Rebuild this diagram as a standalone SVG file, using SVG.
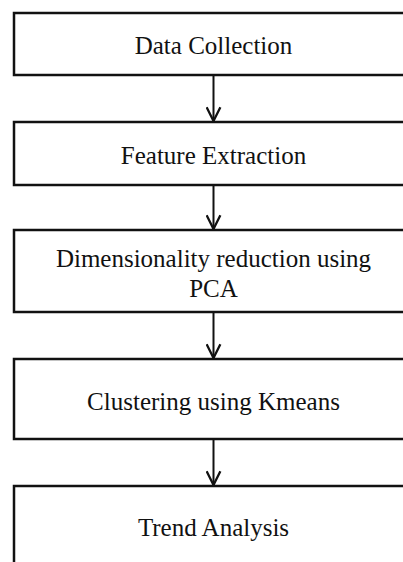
<svg xmlns="http://www.w3.org/2000/svg" width="403" height="562" viewBox="0 0 403 562">
  <style>
    .box { fill: #ffffff; stroke: #111111; stroke-width: 2.5; }
    .lbl { font-family: "Liberation Serif", "Times New Roman", serif; font-size: 25px; fill: #111111; text-anchor: middle; }
    .conn { fill: none; stroke: #111111; stroke-width: 2; }
  </style>
  <defs>
    <marker id="arrow" markerUnits="userSpaceOnUse" markerWidth="16" markerHeight="16" refX="13" refY="7" orient="auto" viewBox="0 0 14 14">
      <path d="M1,1 L13,7 L1,13" fill="none" stroke="#111111" stroke-width="2"/>
    </marker>
  </defs>
  <rect x="0" y="0" width="403" height="562" fill="#ffffff"/>
  <g id="connectors">
    <path class="conn" d="M213.5,75 V121" marker-end="url(#arrow)"/>
    <path class="conn" d="M213.5,185 V229" marker-end="url(#arrow)"/>
    <path class="conn" d="M213.5,312 V358" marker-end="url(#arrow)"/>
    <path class="conn" d="M213.5,439 V485" marker-end="url(#arrow)"/>
  </g>
  <g id="node-data-collection">
    <rect class="box" x="14" y="13" width="420" height="62"/>
    <text class="lbl" x="213.5" y="54">Data Collection</text>
  </g>
  <g id="node-feature-extraction">
    <rect class="box" x="14" y="122" width="420" height="63"/>
    <text class="lbl" x="213.5" y="164">Feature Extraction</text>
  </g>
  <g id="node-dimensionality-reduction">
    <rect class="box" x="14" y="230" width="420" height="82"/>
    <text class="lbl" x="213.5" y="267">Dimensionality reduction using</text>
    <text class="lbl" x="213.5" y="297">PCA</text>
  </g>
  <g id="node-clustering">
    <rect class="box" x="14" y="359" width="420" height="80"/>
    <text class="lbl" x="213.5" y="410">Clustering using Kmeans</text>
  </g>
  <g id="node-trend-analysis">
    <rect class="box" x="14" y="486" width="420" height="100"/>
    <text class="lbl" x="213.5" y="536">Trend Analysis</text>
  </g>
</svg>
